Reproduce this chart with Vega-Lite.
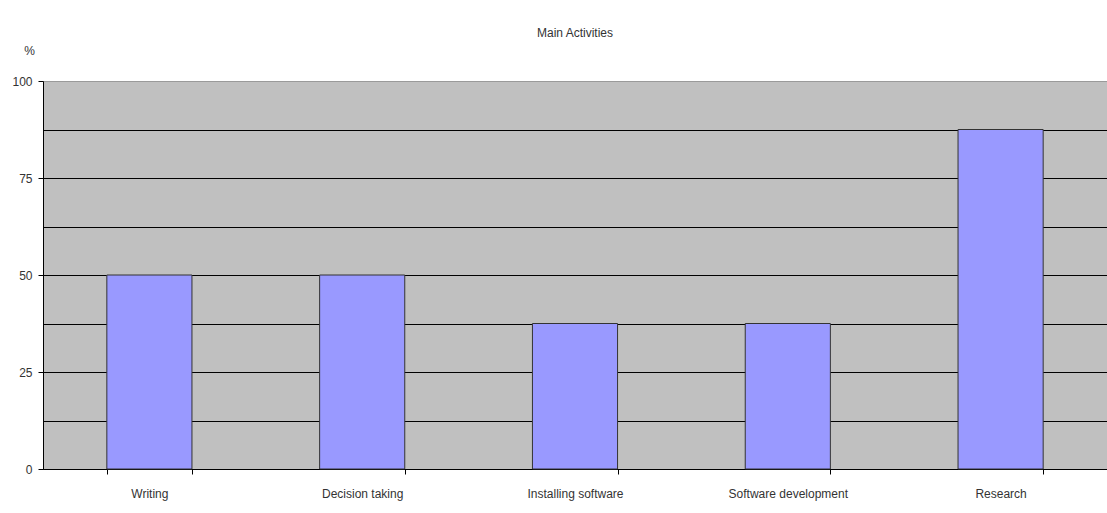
{
  "$schema": "https://vega.github.io/schema/vega-lite/v6.json",
  "autosize": {"type": "none"},
  "padding": {"left": 43, "top": 81, "right": 0, "bottom": 44},
  "width": 1064,
  "height": 388,
  "background": "white",
  "title": {"text": "Main Activities", "font": "Liberation Sans", "fontSize": 12, "fontWeight": "normal", "color": "#333333", "anchor": "middle", "offset": 4},
  "config": {
    "view": {"fill": "#C0C0C0", "stroke": "#9a9a9a", "strokeWidth": 1},
    "axis": {"labelFont": "Liberation Sans", "titleFont": "Liberation Sans", "labelFontSize": 12, "labelColor": "#333333", "titleColor": "#333333"}
  },
  "data": {"values": [
    {"activity": "Writing", "pct": 50},
    {"activity": "Decision taking", "pct": 50},
    {"activity": "Installing software", "pct": 37.5},
    {"activity": "Software development", "pct": 37.5},
    {"activity": "Research", "pct": 87.5}
  ]},
  "mark": {"type": "bar", "fill": "#9999FF", "stroke": "#333333", "strokeWidth": 1},
  "encoding": {
    "x": {
      "field": "activity", "type": "nominal", "sort": null,
      "scale": {"paddingInner": 0.6, "paddingOuter": 0.3},
      "axis": {"title": null, "labelAngle": 0, "tickBand": "extent", "domainColor": "#000000", "tickColor": "#000000", "tickSize": 5, "labelPadding": 14, "grid": false}
    },
    "y": {
      "field": "pct", "type": "quantitative",
      "scale": {"domain": [0, 100], "nice": false},
      "axis": {
        "title": "%", "titleAngle": 0, "titleFontSize": 12, "titleFontWeight": "normal", "titleX": -14, "titleY": -31, "titleAlign": "center", "titleBaseline": "middle",
        "values": [0, 12.5, 25, 37.5, 50, 62.5, 75, 87.5, 100],
        "labelExpr": "datum.value % 25 == 0 ? datum.label : ''",
        "grid": true,
        "gridColor": {"condition": {"test": "datum.value == 100", "value": "#9a9a9a"}, "value": "#000000"},
        "gridWidth": 1,
        "tickOpacity": {"condition": {"test": "datum.value % 25 == 0", "value": 1}, "value": 0},
        "domainColor": "#000000", "tickColor": "#000000", "tickSize": 5, "labelPadding": 6
      }
    }
  }
}
